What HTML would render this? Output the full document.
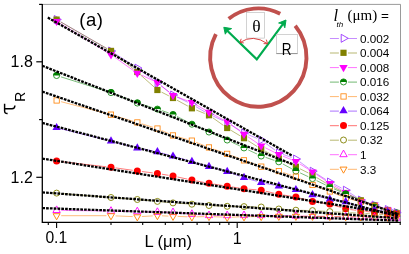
<!DOCTYPE html>
<html><head><meta charset="utf-8"><title>chart</title><style>html,body{margin:0;padding:0;background:#fff}body{width:409px;height:254px;overflow:hidden}</style></head><body>
<svg width="409" height="254" viewBox="0 0 409 254" style="display:block;will-change:transform;font-family:'Liberation Sans',sans-serif">
<rect width="409" height="254" fill="#fff"/>
<path d="M42.3,4.4 H400.5 V222.3" fill="none" stroke="#808080" stroke-width="0.8"/>
<path d="M280.2,13.7 A48.15,49.25 0 0 0 228.7,18.8" fill="none" stroke="#C0504D" stroke-width="3.9"/>
<path d="M215.9,34.2 A48.15,49.25 0 1 0 295.2,25.8" fill="none" stroke="#C0504D" stroke-width="3.9"/>
<path d="M60.6,21.8 L107.0,48.7 M114.9,53.5 L133.4,65.6 M141.0,70.8 L153.7,80.3 M161.0,85.8 L169.4,92.2 M177.1,97.0 L187.8,102.3 M195.9,106.6 L205.0,112.0 M213.2,116.2 L223.0,120.6 M231.1,124.9 L240.1,130.6 M248.3,134.7 L256.9,138.3 M264.9,142.7 L275.1,150.2 M283.1,154.4 L291.6,157.5 M299.6,161.7 L308.8,168.5 M316.4,173.6 L325.9,179.6 M333.9,184.1 L341.6,188.1 M349.6,192.7 L356.9,197.5 M365.1,201.6 L370.2,203.4 M378.9,206.5 L383.3,208.0 " fill="none" stroke="#9933FF" stroke-width="0.65" stroke-opacity="0.8"/>
<polygon points="54.3,15.5 61.3,19.5 54.3,23.5" fill="none" stroke="#9933FF" stroke-width="0.9"/>
<polygon points="108.7,47.0 115.7,51.0 108.7,55.0" fill="none" stroke="#9933FF" stroke-width="0.9"/>
<polygon points="135.0,64.1 142.0,68.1 135.0,72.1" fill="none" stroke="#9933FF" stroke-width="0.9"/>
<polygon points="155.1,79.0 162.1,83.0 155.1,87.0" fill="none" stroke="#9933FF" stroke-width="0.9"/>
<polygon points="170.7,91.0 177.7,95.0 170.7,99.0" fill="none" stroke="#9933FF" stroke-width="0.9"/>
<polygon points="189.6,100.3 196.6,104.3 189.6,108.3" fill="none" stroke="#9933FF" stroke-width="0.9"/>
<polygon points="206.7,110.3 213.7,114.3 206.7,118.3" fill="none" stroke="#9933FF" stroke-width="0.9"/>
<polygon points="224.9,118.5 231.9,122.5 224.9,126.5" fill="none" stroke="#9933FF" stroke-width="0.9"/>
<polygon points="241.7,129.0 248.7,133.0 241.7,137.0" fill="none" stroke="#9933FF" stroke-width="0.9"/>
<polygon points="258.9,136.0 265.9,140.0 258.9,144.0" fill="none" stroke="#9933FF" stroke-width="0.9"/>
<polygon points="276.5,148.9 283.5,152.9 276.5,156.9" fill="none" stroke="#9933FF" stroke-width="0.9"/>
<polygon points="293.6,155.0 300.6,159.0 293.6,163.0" fill="none" stroke="#9933FF" stroke-width="0.9"/>
<polygon points="310.2,167.2 317.2,171.2 310.2,175.2" fill="none" stroke="#9933FF" stroke-width="0.9"/>
<polygon points="327.5,178.0 334.5,182.0 327.5,186.0" fill="none" stroke="#9933FF" stroke-width="0.9"/>
<polygon points="343.4,186.2 350.4,190.2 343.4,194.2" fill="none" stroke="#9933FF" stroke-width="0.9"/>
<polygon points="358.5,196.0 365.5,200.0 358.5,204.0" fill="none" stroke="#9933FF" stroke-width="0.9"/>
<polygon points="372.2,201.0 379.2,205.0 372.2,209.0" fill="none" stroke="#9933FF" stroke-width="0.9"/>
<polygon points="385.4,205.5 392.4,209.5 385.4,213.5" fill="none" stroke="#9933FF" stroke-width="0.9"/>
<polygon points="394.2,208.5 401.2,212.5 394.2,216.5" fill="none" stroke="#9933FF" stroke-width="0.9"/>
<path d="M60.6,21.9 L107.0,48.6 M114.6,53.8 L133.7,69.1 M140.7,75.1 L154.0,86.9 M161.5,92.1 L168.9,95.9 M177.0,100.2 L187.9,106.1 M196.2,110.0 L204.7,113.5 M212.8,117.8 L223.4,125.4 M231.1,130.4 L240.1,135.8 M247.9,140.6 L257.3,146.6 M265.2,151.2 L274.8,156.3 M282.9,160.5 L291.8,164.8 M300.0,168.8 L308.4,173.0 M316.4,177.4 L325.9,183.1 M334.0,187.5 L341.5,191.0 M349.8,195.0 L356.7,198.3 M365.1,201.9 L370.2,203.9 M378.9,207.0 L383.3,208.5 " fill="none" stroke="#808000" stroke-width="0.65" stroke-opacity="0.8"/>
<rect x="53.5" y="16.5" width="6.2" height="6.2" fill="#808000"/>
<rect x="107.9" y="47.8" width="6.2" height="6.2" fill="#808000"/>
<rect x="134.2" y="68.9" width="6.2" height="6.2" fill="#808000"/>
<rect x="154.3" y="86.9" width="6.2" height="6.2" fill="#808000"/>
<rect x="169.9" y="94.9" width="6.2" height="6.2" fill="#808000"/>
<rect x="188.8" y="105.2" width="6.2" height="6.2" fill="#808000"/>
<rect x="205.9" y="112.1" width="6.2" height="6.2" fill="#808000"/>
<rect x="224.1" y="124.9" width="6.2" height="6.2" fill="#808000"/>
<rect x="240.9" y="135.1" width="6.2" height="6.2" fill="#808000"/>
<rect x="258.1" y="145.9" width="6.2" height="6.2" fill="#808000"/>
<rect x="275.7" y="155.4" width="6.2" height="6.2" fill="#808000"/>
<rect x="292.8" y="163.7" width="6.2" height="6.2" fill="#808000"/>
<rect x="309.4" y="171.9" width="6.2" height="6.2" fill="#808000"/>
<rect x="326.7" y="182.4" width="6.2" height="6.2" fill="#808000"/>
<rect x="342.6" y="189.9" width="6.2" height="6.2" fill="#808000"/>
<rect x="357.7" y="197.2" width="6.2" height="6.2" fill="#808000"/>
<rect x="371.4" y="202.4" width="6.2" height="6.2" fill="#808000"/>
<rect x="384.6" y="206.9" width="6.2" height="6.2" fill="#808000"/>
<rect x="393.4" y="209.9" width="6.2" height="6.2" fill="#808000"/>
<path d="M60.5,23.7 L107.1,52.3 M114.8,57.3 L133.5,70.6 M141.5,75.1 L153.2,80.6 M160.9,85.4 L169.5,92.6 M177.3,97.1 L187.6,100.8 M195.9,104.7 L205.0,109.9 M213.1,114.3 L223.1,119.7 M230.9,124.5 L240.3,131.4 M247.8,136.7 L257.4,143.2 M265.3,147.8 L274.7,152.4 M283.0,156.2 L291.7,159.7 M299.8,163.9 L308.6,169.4 M316.3,174.3 L326.0,180.8 M333.8,185.6 L341.7,190.0 M349.6,194.7 L356.9,199.1 M365.3,202.6 L370.0,203.7 M378.8,206.4 L383.4,208.2 " fill="none" stroke="#FF00FF" stroke-width="0.65" stroke-opacity="0.8"/>
<polygon points="52.4,18.9 60.8,18.9 56.6,26.1" fill="#FF00FF"/>
<polygon points="106.8,52.3 115.2,52.3 111.0,59.5" fill="#FF00FF"/>
<polygon points="133.1,70.8 141.5,70.8 137.3,78.0" fill="#FF00FF"/>
<polygon points="153.2,80.1 161.6,80.1 157.4,87.3" fill="#FF00FF"/>
<polygon points="168.8,93.1 177.2,93.1 173.0,100.3" fill="#FF00FF"/>
<polygon points="187.7,100.0 196.1,100.0 191.9,107.2" fill="#FF00FF"/>
<polygon points="204.8,109.8 213.2,109.8 209.0,117.0" fill="#FF00FF"/>
<polygon points="223.0,119.4 231.4,119.4 227.2,126.6" fill="#FF00FF"/>
<polygon points="239.8,131.7 248.2,131.7 244.0,138.9" fill="#FF00FF"/>
<polygon points="257.0,143.4 265.4,143.4 261.2,150.6" fill="#FF00FF"/>
<polygon points="274.6,152.0 283.0,152.0 278.8,159.2" fill="#FF00FF"/>
<polygon points="291.7,159.1 300.1,159.1 295.9,166.3" fill="#FF00FF"/>
<polygon points="308.3,169.4 316.7,169.4 312.5,176.6" fill="#FF00FF"/>
<polygon points="325.6,180.9 334.0,180.9 329.8,188.1" fill="#FF00FF"/>
<polygon points="341.5,189.9 349.9,189.9 345.7,197.1" fill="#FF00FF"/>
<polygon points="356.6,199.1 365.0,199.1 360.8,206.3" fill="#FF00FF"/>
<polygon points="370.3,202.4 378.7,202.4 374.5,209.6" fill="#FF00FF"/>
<polygon points="383.5,207.4 391.9,207.4 387.7,214.6" fill="#FF00FF"/>
<polygon points="392.3,210.1 400.7,210.1 396.5,217.3" fill="#FF00FF"/>
<path d="M61.0,76.9 L106.6,91.2 M115.3,94.3 L133.0,101.3 M141.7,104.3 L153.0,107.8 M161.8,110.6 L168.6,112.9 M177.1,116.5 L187.8,122.1 M196.1,126.1 L204.8,130.1 M213.2,133.9 L223.0,138.1 M231.4,142.0 L239.8,145.9 M248.2,149.9 L257.0,154.0 M265.6,157.4 L274.4,160.4 M282.9,164.0 L291.8,168.8 M300.1,172.9 L308.3,176.7 M316.6,180.6 L325.7,185.0 M334.0,188.9 L341.5,192.1 M350.0,195.7 L370.2,203.8 M378.9,206.9 L392.1,211.3 " fill="none" stroke="#008000" stroke-width="0.65" stroke-opacity="0.8"/>
<circle cx="56.6" cy="75.5" r="3.05" fill="#fff" stroke="#008000" stroke-width="0.8"/><path d="M53.1,75.5 A3.45,3.45 0 0 1 60.1,75.5 Z" fill="#008000"/>
<circle cx="111.0" cy="92.6" r="3.05" fill="#fff" stroke="#008000" stroke-width="0.8"/><path d="M107.5,92.6 A3.45,3.45 0 0 1 114.5,92.6 Z" fill="#008000"/>
<circle cx="137.3" cy="103.0" r="3.05" fill="#fff" stroke="#008000" stroke-width="0.8"/><path d="M133.9,103.0 A3.45,3.45 0 0 1 140.8,103.0 Z" fill="#008000"/>
<circle cx="157.4" cy="109.1" r="3.05" fill="#fff" stroke="#008000" stroke-width="0.8"/><path d="M154.0,109.1 A3.45,3.45 0 0 1 160.8,109.1 Z" fill="#008000"/>
<circle cx="173.0" cy="114.4" r="3.05" fill="#fff" stroke="#008000" stroke-width="0.8"/><path d="M169.6,114.4 A3.45,3.45 0 0 1 176.4,114.4 Z" fill="#008000"/>
<circle cx="191.9" cy="124.2" r="3.05" fill="#fff" stroke="#008000" stroke-width="0.8"/><path d="M188.5,124.2 A3.45,3.45 0 0 1 195.3,124.2 Z" fill="#008000"/>
<circle cx="209.0" cy="132.0" r="3.05" fill="#fff" stroke="#008000" stroke-width="0.8"/><path d="M205.6,132.0 A3.45,3.45 0 0 1 212.4,132.0 Z" fill="#008000"/>
<circle cx="227.2" cy="140.0" r="3.05" fill="#fff" stroke="#008000" stroke-width="0.8"/><path d="M223.8,140.0 A3.45,3.45 0 0 1 230.6,140.0 Z" fill="#008000"/>
<circle cx="244.0" cy="147.9" r="3.05" fill="#fff" stroke="#008000" stroke-width="0.8"/><path d="M240.6,147.9 A3.45,3.45 0 0 1 247.4,147.9 Z" fill="#008000"/>
<circle cx="261.2" cy="156.0" r="3.05" fill="#fff" stroke="#008000" stroke-width="0.8"/><path d="M257.8,156.0 A3.45,3.45 0 0 1 264.6,156.0 Z" fill="#008000"/>
<circle cx="278.8" cy="161.8" r="3.05" fill="#fff" stroke="#008000" stroke-width="0.8"/><path d="M275.4,161.8 A3.45,3.45 0 0 1 282.2,161.8 Z" fill="#008000"/>
<circle cx="295.9" cy="171.0" r="3.05" fill="#fff" stroke="#008000" stroke-width="0.8"/><path d="M292.4,171.0 A3.45,3.45 0 0 1 299.3,171.0 Z" fill="#008000"/>
<circle cx="312.5" cy="178.6" r="3.05" fill="#fff" stroke="#008000" stroke-width="0.8"/><path d="M309.1,178.6 A3.45,3.45 0 0 1 315.9,178.6 Z" fill="#008000"/>
<circle cx="329.8" cy="187.0" r="3.05" fill="#fff" stroke="#008000" stroke-width="0.8"/><path d="M326.4,187.0 A3.45,3.45 0 0 1 333.2,187.0 Z" fill="#008000"/>
<circle cx="345.7" cy="194.0" r="3.05" fill="#fff" stroke="#008000" stroke-width="0.8"/><path d="M342.2,194.0 A3.45,3.45 0 0 1 349.1,194.0 Z" fill="#008000"/>
<circle cx="374.5" cy="205.5" r="3.05" fill="#fff" stroke="#008000" stroke-width="0.8"/><path d="M371.1,205.5 A3.45,3.45 0 0 1 377.9,205.5 Z" fill="#008000"/>
<circle cx="396.5" cy="212.7" r="3.05" fill="#fff" stroke="#008000" stroke-width="0.8"/><path d="M393.1,212.7 A3.45,3.45 0 0 1 399.9,212.7 Z" fill="#008000"/>
<path d="M61.1,101.7 L106.5,113.5 M115.4,116.0 L132.9,121.2 M141.7,123.8 L153.0,127.3 M161.6,130.5 L168.8,133.6 M177.4,136.7 L187.5,139.5 M196.2,142.4 L204.7,145.8 M213.3,149.0 L222.9,152.3 M231.5,155.5 L239.7,158.6 M248.3,161.9 L256.9,165.1 M265.7,167.8 L274.3,170.0 M283.2,172.5 L291.5,175.3 M300.0,178.8 L308.4,182.9 M316.8,186.6 L325.5,189.9 M334.1,193.2 L341.4,196.3 M350.2,199.1 L356.3,200.7 M365.2,203.1 L370.1,204.7 M378.8,207.6 L383.4,209.4 " fill="none" stroke="#FF8000" stroke-width="0.65" stroke-opacity="0.8"/>
<rect x="54.0" y="97.8" width="5.3" height="5.3" fill="none" stroke="#FF8000" stroke-width="0.8"/>
<rect x="108.3" y="112.0" width="5.3" height="5.3" fill="none" stroke="#FF8000" stroke-width="0.8"/>
<rect x="134.7" y="119.8" width="5.3" height="5.3" fill="none" stroke="#FF8000" stroke-width="0.8"/>
<rect x="154.8" y="125.9" width="5.3" height="5.3" fill="none" stroke="#FF8000" stroke-width="0.8"/>
<rect x="170.3" y="132.8" width="5.3" height="5.3" fill="none" stroke="#FF8000" stroke-width="0.8"/>
<rect x="189.2" y="138.0" width="5.3" height="5.3" fill="none" stroke="#FF8000" stroke-width="0.8"/>
<rect x="206.3" y="144.8" width="5.3" height="5.3" fill="none" stroke="#FF8000" stroke-width="0.8"/>
<rect x="224.5" y="151.2" width="5.3" height="5.3" fill="none" stroke="#FF8000" stroke-width="0.8"/>
<rect x="241.3" y="157.7" width="5.3" height="5.3" fill="none" stroke="#FF8000" stroke-width="0.8"/>
<rect x="258.6" y="164.0" width="5.3" height="5.3" fill="none" stroke="#FF8000" stroke-width="0.8"/>
<rect x="276.2" y="168.4" width="5.3" height="5.3" fill="none" stroke="#FF8000" stroke-width="0.8"/>
<rect x="293.2" y="174.0" width="5.3" height="5.3" fill="none" stroke="#FF8000" stroke-width="0.8"/>
<rect x="309.9" y="182.3" width="5.3" height="5.3" fill="none" stroke="#FF8000" stroke-width="0.8"/>
<rect x="327.2" y="188.8" width="5.3" height="5.3" fill="none" stroke="#FF8000" stroke-width="0.8"/>
<rect x="343.1" y="195.3" width="5.3" height="5.3" fill="none" stroke="#FF8000" stroke-width="0.8"/>
<rect x="358.2" y="199.2" width="5.3" height="5.3" fill="none" stroke="#FF8000" stroke-width="0.8"/>
<rect x="371.9" y="203.3" width="5.3" height="5.3" fill="none" stroke="#FF8000" stroke-width="0.8"/>
<rect x="385.1" y="208.3" width="5.3" height="5.3" fill="none" stroke="#FF8000" stroke-width="0.8"/>
<rect x="393.9" y="210.8" width="5.3" height="5.3" fill="none" stroke="#FF8000" stroke-width="0.8"/>
<path d="M61.1,128.8 L106.5,140.0 M115.4,142.3 L132.9,146.8 M141.8,148.9 L152.9,150.9 M161.8,153.0 L168.6,155.0 M177.4,157.5 L187.5,160.3 M196.3,162.9 L204.6,165.2 M213.4,167.7 L222.8,170.4 M231.5,173.1 L239.7,176.1 M248.4,178.9 L256.8,181.3 M265.7,183.5 L274.3,185.1 M283.3,187.0 L291.4,188.7 M300.3,191.1 L308.1,193.5 M317.0,196.1 L325.3,198.2 M334.3,200.1 L341.2,201.1 M350.0,203.4 L356.5,205.8 M365.3,208.2 L370.0,209.0 M379.0,210.6 L383.2,211.2 " fill="none" stroke="#6600FF" stroke-width="0.65" stroke-opacity="0.8"/>
<polygon points="52.4,130.1 60.8,130.1 56.6,122.9" fill="#6600FF"/>
<polygon points="106.8,143.5 115.2,143.5 111.0,136.3" fill="#6600FF"/>
<polygon points="133.1,150.4 141.5,150.4 137.3,143.2" fill="#6600FF"/>
<polygon points="153.2,154.2 161.6,154.2 157.4,147.0" fill="#6600FF"/>
<polygon points="168.8,158.6 177.2,158.6 173.0,151.4" fill="#6600FF"/>
<polygon points="187.7,164.0 196.1,164.0 191.9,156.8" fill="#6600FF"/>
<polygon points="204.8,168.9 213.2,168.9 209.0,161.7" fill="#6600FF"/>
<polygon points="223.0,174.0 231.4,174.0 227.2,166.8" fill="#6600FF"/>
<polygon points="239.8,180.0 248.2,180.0 244.0,172.8" fill="#6600FF"/>
<polygon points="257.0,185.0 265.4,185.0 261.2,177.8" fill="#6600FF"/>
<polygon points="274.6,188.4 283.0,188.4 278.8,181.2" fill="#6600FF"/>
<polygon points="291.7,192.1 300.1,192.1 295.9,184.9" fill="#6600FF"/>
<polygon points="308.3,197.3 316.7,197.3 312.5,190.1" fill="#6600FF"/>
<polygon points="325.6,201.8 334.0,201.8 329.8,194.6" fill="#6600FF"/>
<polygon points="341.5,204.2 349.9,204.2 345.7,197.0" fill="#6600FF"/>
<polygon points="356.6,209.8 365.0,209.8 360.8,202.6" fill="#6600FF"/>
<polygon points="370.3,212.2 378.7,212.2 374.5,205.0" fill="#6600FF"/>
<polygon points="383.5,214.4 391.9,214.4 387.7,207.2" fill="#6600FF"/>
<polygon points="392.3,216.4 400.7,216.4 396.5,209.2" fill="#6600FF"/>
<path d="M61.2,161.6 L106.4,166.8 M115.6,167.9 L132.7,170.3 M141.9,171.5 L152.8,172.9 M161.9,174.2 L168.5,175.3 M177.5,177.0 L187.4,179.1 M196.4,180.9 L204.5,182.5 M213.5,184.0 L222.7,185.5 M231.7,186.9 L239.5,188.1 M248.6,189.2 L256.6,189.8 M265.7,191.2 L274.3,193.3 M283.3,195.0 L291.4,196.3 M300.3,198.2 L308.1,200.3 M317.0,202.2 L325.3,203.4 M334.2,205.4 L341.3,207.5 M350.3,209.5 L356.2,210.3 M365.4,211.4 L369.9,211.9 M379.1,212.8 L383.1,213.3 " fill="none" stroke="#FF0000" stroke-width="0.65" stroke-opacity="0.8"/>
<circle cx="56.6" cy="161.1" r="3.5" fill="#FF0000"/>
<circle cx="111.0" cy="167.3" r="3.5" fill="#FF0000"/>
<circle cx="137.3" cy="170.9" r="3.5" fill="#FF0000"/>
<circle cx="157.4" cy="173.5" r="3.5" fill="#FF0000"/>
<circle cx="173.0" cy="176.0" r="3.5" fill="#FF0000"/>
<circle cx="191.9" cy="180.1" r="3.5" fill="#FF0000"/>
<circle cx="209.0" cy="183.3" r="3.5" fill="#FF0000"/>
<circle cx="227.2" cy="186.2" r="3.5" fill="#FF0000"/>
<circle cx="244.0" cy="188.8" r="3.5" fill="#FF0000"/>
<circle cx="261.2" cy="190.2" r="3.5" fill="#FF0000"/>
<circle cx="278.8" cy="194.3" r="3.5" fill="#FF0000"/>
<circle cx="295.9" cy="197.0" r="3.5" fill="#FF0000"/>
<circle cx="312.5" cy="201.5" r="3.5" fill="#FF0000"/>
<circle cx="329.8" cy="204.1" r="3.5" fill="#FF0000"/>
<circle cx="345.7" cy="208.8" r="3.5" fill="#FF0000"/>
<circle cx="360.8" cy="211.0" r="3.5" fill="#FF0000"/>
<circle cx="374.5" cy="212.3" r="3.5" fill="#FF0000"/>
<circle cx="387.7" cy="213.8" r="3.5" fill="#FF0000"/>
<circle cx="396.5" cy="214.6" r="3.5" fill="#FF0000"/>
<path d="M61.2,193.5 L106.4,197.1 M115.6,197.8 L132.7,199.2 M141.9,199.9 L152.8,201.0 M162.0,201.8 L168.4,202.5 M177.6,203.2 L187.3,203.9 M196.5,204.5 L204.4,205.2 M213.6,205.7 L222.6,206.1 M231.8,206.4 L239.4,206.5 M248.6,206.7 L256.6,206.9 M265.8,207.5 L274.2,208.5 M283.4,209.3 L291.3,209.9 M300.5,210.3 L307.9,210.5 M317.1,210.9 L325.2,211.3 M334.4,211.9 L341.1,212.2 M350.3,212.7 L356.2,213.1 M365.4,213.5 L369.9,213.8 M379.1,214.3 L383.1,214.5 " fill="none" stroke="#808000" stroke-width="0.65" stroke-opacity="0.8"/>
<circle cx="56.6" cy="193.1" r="3.0" fill="none" stroke="#808000" stroke-width="0.9"/>
<circle cx="111.0" cy="197.5" r="3.0" fill="none" stroke="#808000" stroke-width="0.9"/>
<circle cx="137.3" cy="199.5" r="3.0" fill="none" stroke="#808000" stroke-width="0.9"/>
<circle cx="157.4" cy="201.4" r="3.0" fill="none" stroke="#808000" stroke-width="0.9"/>
<circle cx="173.0" cy="202.9" r="3.0" fill="none" stroke="#808000" stroke-width="0.9"/>
<circle cx="191.9" cy="204.2" r="3.0" fill="none" stroke="#808000" stroke-width="0.9"/>
<circle cx="209.0" cy="205.5" r="3.0" fill="none" stroke="#808000" stroke-width="0.9"/>
<circle cx="227.2" cy="206.3" r="3.0" fill="none" stroke="#808000" stroke-width="0.9"/>
<circle cx="244.0" cy="206.6" r="3.0" fill="none" stroke="#808000" stroke-width="0.9"/>
<circle cx="261.2" cy="207.0" r="3.0" fill="none" stroke="#808000" stroke-width="0.9"/>
<circle cx="278.8" cy="209.0" r="3.0" fill="none" stroke="#808000" stroke-width="0.9"/>
<circle cx="295.9" cy="210.2" r="3.0" fill="none" stroke="#808000" stroke-width="0.9"/>
<circle cx="312.5" cy="210.6" r="3.0" fill="none" stroke="#808000" stroke-width="0.9"/>
<circle cx="329.8" cy="211.6" r="3.0" fill="none" stroke="#808000" stroke-width="0.9"/>
<circle cx="345.7" cy="212.5" r="3.0" fill="none" stroke="#808000" stroke-width="0.9"/>
<circle cx="360.8" cy="213.3" r="3.0" fill="none" stroke="#808000" stroke-width="0.9"/>
<circle cx="374.5" cy="214.0" r="3.0" fill="none" stroke="#808000" stroke-width="0.9"/>
<circle cx="387.7" cy="214.8" r="3.0" fill="none" stroke="#808000" stroke-width="0.9"/>
<circle cx="396.5" cy="215.3" r="3.0" fill="none" stroke="#808000" stroke-width="0.9"/>
<path d="M61.2,210.4 L106.4,211.0 M115.6,211.2 L132.7,211.5 M141.9,211.7 L152.8,212.1 M162.0,212.3 L168.4,212.3 M177.6,212.8 L187.3,213.8 M196.5,214.5 L204.4,215.1 M213.6,215.4 L222.6,215.5 M231.8,215.5 L239.4,215.4 M248.6,215.4 L256.6,215.4 M265.8,215.4 L274.2,215.4 M283.4,215.6 L291.3,215.8 M300.5,216.1 L307.9,216.2 M317.1,216.4 L325.2,216.5 M334.4,216.7 L341.1,216.8 M350.3,217.0 L356.2,217.1 M365.4,217.3 L369.9,217.4 M379.1,217.6 L383.1,217.7 " fill="none" stroke="#FF00FF" stroke-width="0.65" stroke-opacity="0.8"/>
<polygon points="52.9,212.5 60.3,212.5 56.6,205.9" fill="none" stroke="#FF00FF" stroke-width="0.9"/>
<polygon points="107.3,213.3 114.7,213.3 111.0,206.7" fill="none" stroke="#FF00FF" stroke-width="0.9"/>
<polygon points="133.6,213.8 141.0,213.8 137.3,207.2" fill="none" stroke="#FF00FF" stroke-width="0.9"/>
<polygon points="153.7,214.4 161.1,214.4 157.4,207.8" fill="none" stroke="#FF00FF" stroke-width="0.9"/>
<polygon points="169.3,214.6 176.7,214.6 173.0,208.0" fill="none" stroke="#FF00FF" stroke-width="0.9"/>
<polygon points="188.2,216.4 195.6,216.4 191.9,209.8" fill="none" stroke="#FF00FF" stroke-width="0.9"/>
<polygon points="205.3,217.6 212.7,217.6 209.0,211.0" fill="none" stroke="#FF00FF" stroke-width="0.9"/>
<polygon points="223.5,217.7 230.9,217.7 227.2,211.1" fill="none" stroke="#FF00FF" stroke-width="0.9"/>
<polygon points="240.3,217.6 247.7,217.6 244.0,211.0" fill="none" stroke="#FF00FF" stroke-width="0.9"/>
<polygon points="257.5,217.6 264.9,217.6 261.2,211.0" fill="none" stroke="#FF00FF" stroke-width="0.9"/>
<polygon points="275.1,217.6 282.5,217.6 278.8,211.0" fill="none" stroke="#FF00FF" stroke-width="0.9"/>
<polygon points="292.2,218.2 299.6,218.2 295.9,211.6" fill="none" stroke="#FF00FF" stroke-width="0.9"/>
<polygon points="308.8,218.5 316.2,218.5 312.5,211.9" fill="none" stroke="#FF00FF" stroke-width="0.9"/>
<polygon points="326.1,218.8 333.5,218.8 329.8,212.2" fill="none" stroke="#FF00FF" stroke-width="0.9"/>
<polygon points="342.0,219.1 349.4,219.1 345.7,212.5" fill="none" stroke="#FF00FF" stroke-width="0.9"/>
<polygon points="357.1,219.4 364.5,219.4 360.8,212.8" fill="none" stroke="#FF00FF" stroke-width="0.9"/>
<polygon points="370.8,219.7 378.2,219.7 374.5,213.1" fill="none" stroke="#FF00FF" stroke-width="0.9"/>
<polygon points="384.0,220.0 391.4,220.0 387.7,213.4" fill="none" stroke="#FF00FF" stroke-width="0.9"/>
<polygon points="392.8,220.2 400.2,220.2 396.5,213.6" fill="none" stroke="#FF00FF" stroke-width="0.9"/>
<path d="M61.2,215.7 L106.4,215.7 M115.6,215.9 L132.7,216.6 M141.9,216.5 L152.8,215.9 M162.0,215.8 L168.4,216.1 M177.6,216.4 L187.3,216.8 M196.5,216.8 L204.4,216.6 M213.6,216.7 L222.6,217.1 M231.8,217.2 L239.4,216.9 M248.6,216.7 L256.6,216.6 M265.8,216.4 L274.2,216.4 M283.4,216.3 L291.3,216.3 M300.5,216.3 L307.9,216.3 M317.1,216.4 L325.2,216.4 M334.4,216.6 L341.1,216.6 M350.3,216.8 L356.2,216.8 M365.4,216.9 L369.9,217.0 M379.1,217.1 L383.1,217.1 " fill="none" stroke="#FF8000" stroke-width="0.65" stroke-opacity="0.8"/>
<polygon points="53.1,213.7 60.1,213.7 56.6,219.8" fill="none" stroke="#FF8000" stroke-width="0.9"/>
<polygon points="107.5,213.7 114.5,213.7 111.0,219.8" fill="none" stroke="#FF8000" stroke-width="0.9"/>
<polygon points="133.8,214.8 140.8,214.8 137.3,220.9" fill="none" stroke="#FF8000" stroke-width="0.9"/>
<polygon points="153.9,213.6 160.9,213.6 157.4,219.7" fill="none" stroke="#FF8000" stroke-width="0.9"/>
<polygon points="169.5,214.3 176.5,214.3 173.0,220.4" fill="none" stroke="#FF8000" stroke-width="0.9"/>
<polygon points="188.4,214.9 195.4,214.9 191.9,221.0" fill="none" stroke="#FF8000" stroke-width="0.9"/>
<polygon points="205.5,214.5 212.5,214.5 209.0,220.6" fill="none" stroke="#FF8000" stroke-width="0.9"/>
<polygon points="223.7,215.3 230.7,215.3 227.2,221.4" fill="none" stroke="#FF8000" stroke-width="0.9"/>
<polygon points="240.5,214.8 247.5,214.8 244.0,220.9" fill="none" stroke="#FF8000" stroke-width="0.9"/>
<polygon points="257.7,214.5 264.7,214.5 261.2,220.6" fill="none" stroke="#FF8000" stroke-width="0.9"/>
<polygon points="275.3,214.3 282.3,214.3 278.8,220.4" fill="none" stroke="#FF8000" stroke-width="0.9"/>
<polygon points="292.4,214.3 299.4,214.3 295.9,220.4" fill="none" stroke="#FF8000" stroke-width="0.9"/>
<polygon points="309.0,214.3 316.0,214.3 312.5,220.4" fill="none" stroke="#FF8000" stroke-width="0.9"/>
<polygon points="326.3,214.5 333.3,214.5 329.8,220.6" fill="none" stroke="#FF8000" stroke-width="0.9"/>
<polygon points="342.2,214.7 349.2,214.7 345.7,220.8" fill="none" stroke="#FF8000" stroke-width="0.9"/>
<polygon points="357.3,214.9 364.3,214.9 360.8,221.0" fill="none" stroke="#FF8000" stroke-width="0.9"/>
<polygon points="371.0,215.0 378.0,215.0 374.5,221.1" fill="none" stroke="#FF8000" stroke-width="0.9"/>
<polygon points="384.2,215.2 391.2,215.2 387.7,221.3" fill="none" stroke="#FF8000" stroke-width="0.9"/>
<polygon points="393.0,215.3 400.0,215.3 396.5,221.4" fill="none" stroke="#FF8000" stroke-width="0.9"/>
<line x1="47.8" y1="17.6" x2="292.5" y2="155.9" stroke="#000" stroke-width="2.3" stroke-dasharray="2.7 1.1"/>
<line x1="42.3" y1="65.8" x2="292.5" y2="164.2" stroke="#000" stroke-width="2.3" stroke-dasharray="2.7 1.1"/>
<line x1="42.3" y1="91.6" x2="398.5" y2="214.2" stroke="#000" stroke-width="2.3" stroke-dasharray="2.7 1.1"/>
<line x1="42.3" y1="122.9" x2="398.5" y2="216.4" stroke="#000" stroke-width="2.3" stroke-dasharray="2.7 1.1"/>
<line x1="42.3" y1="158.6" x2="398.5" y2="214.6" stroke="#000" stroke-width="2.3" stroke-dasharray="2.7 1.1"/>
<line x1="42.3" y1="192.4" x2="398.5" y2="218.3" stroke="#000" stroke-width="2.3" stroke-dasharray="2.7 1.1"/>
<line x1="42.3" y1="208.1" x2="398.5" y2="220.6" stroke="#000" stroke-width="2.3" stroke-dasharray="2.7 1.1"/>
<path d="M42.3,3.9 V222.9 M41.7,222.3 H400.8" fill="none" stroke="#000" stroke-width="1.3"/>
<line x1="36.3" y1="61.8" x2="42.3" y2="61.8" stroke="#000" stroke-width="1.2"/>
<line x1="36.3" y1="177.3" x2="42.3" y2="177.3" stroke="#000" stroke-width="1.2"/>
<line x1="39.099999999999994" y1="119.6" x2="42.3" y2="119.6" stroke="#000" stroke-width="1.2"/>
<line x1="39.099999999999994" y1="4.4" x2="42.3" y2="4.4" stroke="#000" stroke-width="1.2"/>
<line x1="48.3" y1="222.3" x2="48.3" y2="225.10000000000002" stroke="#000" stroke-width="1.1"/>
<line x1="56.6" y1="222.3" x2="56.6" y2="227.9" stroke="#000" stroke-width="1.1"/>
<line x1="111.0" y1="222.3" x2="111.0" y2="225.10000000000002" stroke="#000" stroke-width="1.1"/>
<line x1="142.7" y1="222.3" x2="142.7" y2="225.10000000000002" stroke="#000" stroke-width="1.1"/>
<line x1="165.3" y1="222.3" x2="165.3" y2="225.10000000000002" stroke="#000" stroke-width="1.1"/>
<line x1="182.8" y1="222.3" x2="182.8" y2="225.10000000000002" stroke="#000" stroke-width="1.1"/>
<line x1="197.1" y1="222.3" x2="197.1" y2="225.10000000000002" stroke="#000" stroke-width="1.1"/>
<line x1="209.2" y1="222.3" x2="209.2" y2="225.10000000000002" stroke="#000" stroke-width="1.1"/>
<line x1="219.7" y1="222.3" x2="219.7" y2="225.10000000000002" stroke="#000" stroke-width="1.1"/>
<line x1="228.9" y1="222.3" x2="228.9" y2="225.10000000000002" stroke="#000" stroke-width="1.1"/>
<line x1="237.2" y1="222.3" x2="237.2" y2="227.9" stroke="#000" stroke-width="1.1"/>
<line x1="291.5" y1="222.3" x2="291.5" y2="225.10000000000002" stroke="#000" stroke-width="1.1"/>
<line x1="323.3" y1="222.3" x2="323.3" y2="225.10000000000002" stroke="#000" stroke-width="1.1"/>
<line x1="345.9" y1="222.3" x2="345.9" y2="225.10000000000002" stroke="#000" stroke-width="1.1"/>
<line x1="363.3" y1="222.3" x2="363.3" y2="225.10000000000002" stroke="#000" stroke-width="1.1"/>
<line x1="377.6" y1="222.3" x2="377.6" y2="225.10000000000002" stroke="#000" stroke-width="1.1"/>
<line x1="389.7" y1="222.3" x2="389.7" y2="225.10000000000002" stroke="#000" stroke-width="1.1"/>
<line x1="400.2" y1="222.3" x2="400.2" y2="225.10000000000002" stroke="#000" stroke-width="1.1"/>
<text x="32.8" y="66.7" font-size="16" text-anchor="end">1.8</text>
<text x="32.8" y="182.7" font-size="16" text-anchor="end">1.2</text>
<text x="56.3" y="243.3" font-size="15.7" text-anchor="middle">0.1</text>
<text x="237.2" y="243.5" font-size="16" text-anchor="middle">1</text>
<text x="144.4" y="247" font-size="16" textLength="47.6" lengthAdjust="spacingAndGlyphs">L (μm)</text>
<text x="79.3" y="25.8" font-size="18.5" textLength="23.6">(a)</text>
<path d="M7.6,113.5 Q4.6,113.7 4.6,111 L4.6,103.8 M4.6,108.7 L12,108.7 Q14.8,108.6 14.9,105.4" fill="none" stroke="#000" stroke-width="1.45"/>
<text x="0" y="0" font-size="13.8" transform="translate(24.9,101.8) rotate(-90)">R</text>
<path d="M226,29.5 L256.8,59.3 L284,22.6" fill="none" stroke="#00AB4E" stroke-width="2.2" stroke-linejoin="miter"/>
<polygon points="223.8,27.3 225.3,34.2 227.3,30.7 231.6,28.6" fill="#00AB4E" stroke="#00AB4E" stroke-width="1" stroke-linejoin="round"/>
<polygon points="286,20 278.6,23 283.2,23.8 284.8,27.8" fill="#00AB4E" stroke="#00AB4E" stroke-width="1" stroke-linejoin="round"/>
<rect x="246.5" y="12.5" width="18" height="25.6" fill="#fff" stroke="#BFBFBF" stroke-width="0.7"/>
<text x="256.4" y="31.8" font-size="17.5" text-anchor="middle" font-family="'Liberation Serif',serif">θ</text>
<rect x="276.4" y="34.4" width="21.2" height="19.2" fill="#fff" stroke="#BFBFBF" stroke-width="0.7"/>
<line x1="276.4" y1="53.6" x2="297.6" y2="53.6" stroke="#777" stroke-width="0.7"/>
<text x="0" y="0" font-size="16.5" transform="translate(281.8,54.9) scale(0.82,1)">R</text>
<path d="M240.2,42.4 Q253,33.8 267.4,43.6" fill="none" stroke="#D83030" stroke-width="0.9"/>
<path d="M243.8,42.9 L240,42.5 L241.2,38.8" fill="none" stroke="#D83030" stroke-width="0.9"/>
<path d="M266.3,39.6 L267.6,43.8 L263.6,43.6" fill="none" stroke="#D83030" stroke-width="0.9"/>
<text x="333.5" y="20.7" font-size="16.5" font-style="italic" font-family="'Liberation Serif',serif">l</text>
<text x="336.6" y="27" font-size="8" font-style="italic">th</text>
<text x="347.5" y="20" font-size="15" font-family="'Liberation Serif',serif">(μm)</text>
<text x="381" y="20" font-size="13.5">=</text>
<path d="M329.9,38.5 H338.9 M348,38.5 H357" stroke="#9933FF" stroke-width="0.7" stroke-opacity="0.8"/>
<polygon points="341.2,34.3 348.2,38.3 341.2,42.3" fill="none" stroke="#9933FF" stroke-width="0.9"/>
<text x="360" y="42.7" font-size="11.7">0.002</text>
<path d="M329.9,53.0 H338.9 M348,53.0 H357" stroke="#808000" stroke-width="0.7" stroke-opacity="0.8"/>
<rect x="340.4" y="49.7" width="6.2" height="6.2" fill="#808000"/>
<text x="360" y="57.2" font-size="11.7">0.004</text>
<path d="M329.9,67.6 H338.9 M348,67.6 H357" stroke="#FF00FF" stroke-width="0.7" stroke-opacity="0.8"/>
<polygon points="339.3,65.0 347.7,65.0 343.5,72.2" fill="#FF00FF"/>
<text x="360" y="71.8" font-size="11.7">0.008</text>
<path d="M329.9,82.1 H338.9 M348,82.1 H357" stroke="#008000" stroke-width="0.7" stroke-opacity="0.8"/>
<circle cx="343.5" cy="81.9" r="3.05" fill="#fff" stroke="#008000" stroke-width="0.8"/><path d="M340.1,81.9 A3.45,3.45 0 0 1 346.9,81.9 Z" fill="#008000"/>
<text x="360" y="86.3" font-size="11.7">0.016</text>
<path d="M329.9,96.6 H338.9 M348,96.6 H357" stroke="#FF8000" stroke-width="0.7" stroke-opacity="0.8"/>
<rect x="340.9" y="93.8" width="5.3" height="5.3" fill="none" stroke="#FF8000" stroke-width="0.8"/>
<text x="360" y="100.8" font-size="11.7">0.032</text>
<path d="M329.9,111.1 H338.9 M348,111.1 H357" stroke="#6600FF" stroke-width="0.7" stroke-opacity="0.8"/>
<polygon points="339.3,113.3 347.7,113.3 343.5,106.1" fill="#6600FF"/>
<text x="360" y="115.3" font-size="11.7">0.064</text>
<path d="M329.9,125.7 H338.9 M348,125.7 H357" stroke="#FF0000" stroke-width="0.7" stroke-opacity="0.8"/>
<circle cx="343.5" cy="125.5" r="3.5" fill="#FF0000"/>
<text x="360" y="129.9" font-size="11.7">0.125</text>
<path d="M329.9,140.2 H338.9 M348,140.2 H357" stroke="#808000" stroke-width="0.7" stroke-opacity="0.8"/>
<circle cx="343.5" cy="140.0" r="3.0" fill="none" stroke="#808000" stroke-width="0.9"/>
<text x="360" y="144.4" font-size="11.7">0.32</text>
<path d="M329.9,154.7 H338.9 M348,154.7 H357" stroke="#FF00FF" stroke-width="0.7" stroke-opacity="0.8"/>
<polygon points="339.8,156.7 347.2,156.7 343.5,150.1" fill="none" stroke="#FF00FF" stroke-width="0.9"/>
<text x="360" y="158.9" font-size="11.7">1</text>
<path d="M329.9,169.3 H338.9 M348,169.3 H357" stroke="#FF8000" stroke-width="0.7" stroke-opacity="0.8"/>
<polygon points="340.0,167.1 347.0,167.1 343.5,173.2" fill="none" stroke="#FF8000" stroke-width="0.9"/>
<text x="360" y="173.5" font-size="11.7">3.3</text>
</svg>
</body></html>
